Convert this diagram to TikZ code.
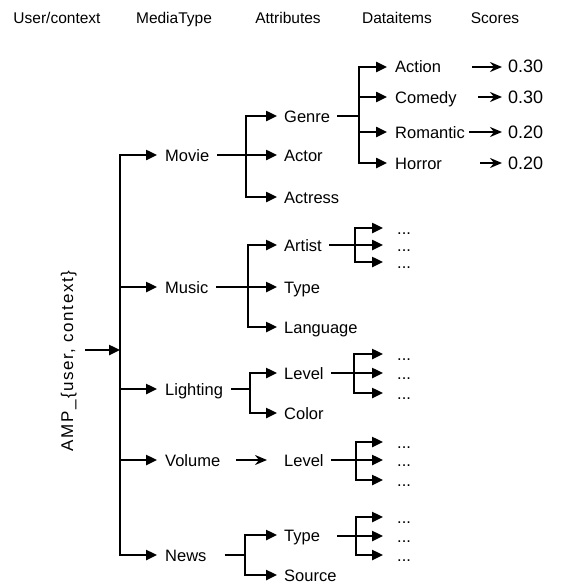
\documentclass[tikz,border=0pt]{standalone}
\usepackage{fontspec}
\setmainfont{Liberation Sans}
\usepackage{tikz}
\usetikzlibrary{arrows.meta}

\begin{document}
\begin{tikzpicture}[x=1pt, y=-1pt,
        txt/.style={font=\fontsize{16.5}{19}\selectfont, text height=12pt, text depth=0pt, inner ysep=0pt},
        head/.style={txt, font=\fontsize{15.5}{18}\selectfont},
        media/.style={txt, anchor=west, inner xsep=8pt},
        attr/.style={txt, anchor=west, inner xsep=7pt},
        item/.style={txt, anchor=west, inner xsep=8pt},
        score/.style={txt, font=\fontsize{18}{20}\selectfont, anchor=west, inner xsep=6pt},
        dots/.style={txt, anchor=west, inner xsep=14pt},
        wire/.style={line width=2.4pt},
        link/.style={line width=2.4pt, -{Triangle[length=11pt,width=10pt]}},
        soft/.style={line width=2pt, -{Stealth[length=12pt,width=10pt,inset=4pt]}}]
        \useasboundingbox (0,0) rectangle (564,586);

        % column headings
        \node[head] (hdruser) at (57,18) {User/context};
        \node[head] (hdrmedia) at (174,18) {MediaType};
        \node[head] (hdrattr) at (288,18) {Attributes};
        \node[head] (hdritems) at (397,18) {Dataitems};
        \node[head] (hdrscore) at (495,18) {Scores};

        % user/context root
        \node[txt, font=\fontsize{17}{19}\selectfont\addfontfeatures{LetterSpace=9}, rotate=90] (amp) at (67,361) {AMP\_\{user, context\}};
        \coordinate (trunk) at (120,350);
        \coordinate (in) at (85,350);
        \draw[link] (in) -- (trunk);

        % media types
        \node[media] (movie) at (157,155) {Movie};
        \node[media] (music) at (157,287) {Music};
        \node[media] (lighting) at (157,389) {Lighting};
        \node[media] (volume) at (157,460) {Volume};
        \node[media] (news) at (157,555) {News};
        \draw[link] (trunk) |- (movie.west);
        \draw[link] (trunk) |- (news.west);
        \draw[link] (trunk |- music) -- (music.west);
        \draw[link] (trunk |- lighting) -- (lighting.west);
        \draw[link] (trunk |- volume) -- (volume.west);

        % attributes
        \node[attr] (genre) at (277,116) {Genre};
        \node[attr] (actor) at (277,155) {Actor};
        \node[attr] (actress) at (277,197) {Actress};
        \node[attr] (artist) at (277,245) {Artist};
        \node[attr] (mustype) at (277,287) {Type};
        \node[attr] (language) at (277,327) {Language};
        \node[attr] (litlevel) at (277,373) {Level};
        \node[attr] (color) at (277,413) {Color};
        \node[attr] (vollevel) at (277,460) {Level};
        \node[attr] (newstype) at (277,535) {Type};
        \node[attr] (source) at (277,575) {Source};

        \coordinate (movj) at (246,155);
        \draw[link] (movie.east) -- (actor.west);
        \draw[link] (movj) |- (genre.west);
        \draw[link] (movj) |- (actress.west);

        \coordinate (musj) at (248,287);
        \draw[link] (music.east) -- (mustype.west);
        \draw[link] (musj) |- (artist.west);
        \draw[link] (musj) |- (language.west);

        \coordinate (litj) at (250,389);
        \draw[wire] (lighting.east) -- (litj);
        \draw[link] (litj) |- (litlevel.west);
        \draw[link] (litj) |- (color.west);

        \draw[soft, shorten <=8pt, shorten >=10pt] (volume.east) -- (vollevel.west);

        \coordinate (newsj) at (245,555);
        \draw[wire, shorten <=10pt] (news.east) -- (newsj);
        \draw[link] (newsj) |- (newstype.west);
        \draw[link] (newsj) |- (source.west);

        % data items and scores
        \node[item] (action) at (387,67) {Action};
        \node[item] (comedy) at (387,97) {Comedy};
        \node[item] (romantic) at (387,132) {Romantic};
        \node[item] (horror) at (387,163) {Horror};
        \coordinate (genj) at (359,116);
        \draw[wire] (genre.east) -- (genj);
        \draw[link] (genj) |- (action.west);
        \draw[link] (genj) |- (comedy.west);
        \draw[link] (genj) |- (romantic.west);
        \draw[link] (genj) |- (horror.west);

        \node[score] (sacti) at (502,67) {0.30};
        \node[score] (scome) at (502,97) {0.30};
        \node[score] (sroma) at (502,132) {0.20};
        \node[score] (shorr) at (502,163) {0.20};
        \draw[soft] ([xshift=-30pt]sacti.west) -- (sacti.west);
        \draw[soft] ([xshift=-24pt]scome.west) -- (scome.west);
        \draw[soft] ([xshift=-33pt]sroma.west) -- (sroma.west);
        \draw[soft] ([xshift=-22pt]shorr.west) -- (shorr.west);

        % open-ended data items
        \node[dots] (art1) at (383,228) {...};
        \node[dots] (art2) at (383,245) {...};
        \node[dots] (art3) at (383,262) {...};
        \coordinate (artj) at (355,245);
        \draw[link] (artist.east) -- (art2.west);
        \draw[link] (artj) |- (art1.west);
        \draw[link] (artj) |- (art3.west);

        \node[dots] (lit1) at (383,354) {...};
        \node[dots] (lit2) at (383,373) {...};
        \node[dots] (lit3) at (383,393) {...};
        \coordinate (litlj) at (354,373);
        \draw[link] (litlevel.east) -- (lit2.west);
        \draw[link] (litlj) |- (lit1.west);
        \draw[link] (litlj) |- (lit3.west);

        \node[dots] (vol1) at (383,442) {...};
        \node[dots] (vol2) at (383,460) {...};
        \node[dots] (vol3) at (383,480) {...};
        \coordinate (vollj) at (356,460);
        \draw[link] (vollevel.east) -- (vol2.west);
        \draw[link] (vollj) |- (vol1.west);
        \draw[link] (vollj) |- (vol3.west);

        \node[dots] (nws1) at (383,517) {...};
        \node[dots] (nws2) at (383,536) {...};
        \node[dots] (nws3) at (383,555) {...};
        \coordinate (nwsj) at (356,536);
        \draw[link, shorten <=10pt] (newstype.east |- nws2) -- (nws2.west);
        \draw[link] (nwsj) |- (nws1.west);
        \draw[link] (nwsj) |- (nws3.west);
\end{tikzpicture}
\end{document}
